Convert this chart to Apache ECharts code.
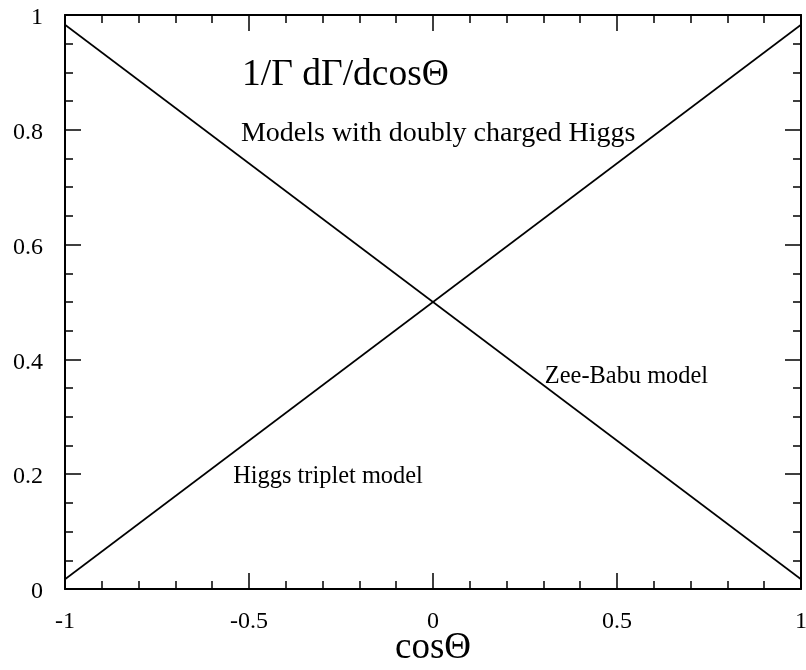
<!DOCTYPE html>
<html>
<head>
<meta charset="utf-8">
<script src="https://cdn.jsdelivr.net/npm/echarts@6/dist/echarts.min.js"></script>
<style>html,body{margin:0;padding:0;background:#fff;}#c{width:806px;height:670px;}</style>
</head>
<body>
<div id="c"></div>
<script>
// Data
const xTicks = [-1, -0.5, 0, 0.5, 1];
const yTicks = [0, 0.2, 0.4, 0.6, 0.8, 1];
const zeeBabuLine = [[-1, 0.983], [1, 0.017]];
const tripletLine = [[-1, 0.017], [1, 0.983]];
const annotationTexts = ['1/Γ dΓ/dcosΘ', 'Models with doubly charged Higgs', 'Zee-Babu model', 'Higgs triplet model'];
const annotationPos = [[-0.519, 0.895], [-0.522, 0.793], [0.304, 0.370], [-0.543, 0.195]];
const annotationSizes = [37.5, 28, 24.4, 24.4];

const FONT = '"Liberation Serif", "Times New Roman", serif';
const chart = echarts.init(document.getElementById('c'), null, {renderer: 'canvas'});

function axisCommon(showLabel, split) {
  return {
    axisLine: {show: true, onZero: false, lineStyle: {color: '#000', width: 2}},
    axisTick: {show: true, inside: true, length: 16, lineStyle: {color: '#000', width: 1.5}},
    minorTick: {show: true, splitNumber: split, length: 8, lineStyle: {color: '#000', width: 1.5}},
    splitLine: {show: false},
    minorSplitLine: {show: false},
    axisLabel: {show: showLabel, color: '#000', fontFamily: FONT, fontSize: 24},
  };
}

const ann = annotationTexts.map((t, i) => ({
  value: annotationPos[i],
  label: {show: true, position: 'right', distance: 0, formatter: t,
          fontSize: annotationSizes[i], fontFamily: FONT, color: '#000', opacity: 1}
}));

const xmin = xTicks[0], xmax = xTicks[xTicks.length - 1];
const ymin = yTicks[0], ymax = yTicks[yTicks.length - 1];

const option = {
  animation: false,
  backgroundColor: '#fff',
  grid: {left: 65, right: 5, top: 15, bottom: 81, containLabel: false, outerBoundsMode: 'none'},
  xAxis: [
    Object.assign({type: 'value', min: xmin, max: xmax, interval: 0.5, position: 'bottom',
      name: 'cosΘ', nameLocation: 'middle', nameGap: 41, nameMoveOverlap: false,
      nameTextStyle: {fontFamily: FONT, fontSize: 37, color: '#000'}}, axisCommon(true, 5),
      {axisLabel: {show: true, color: '#000', fontFamily: FONT, fontSize: 24, margin: 21}}),
    Object.assign({type: 'value', min: xmin, max: xmax, interval: 0.5, position: 'top'}, axisCommon(false, 5))
  ],
  yAxis: [
    Object.assign({type: 'value', min: ymin, max: ymax, interval: 0.2, position: 'left'}, axisCommon(true, 4),
      {axisLabel: {show: true, color: '#000', fontFamily: FONT, fontSize: 24, margin: 22,
        formatter: '{a|{value}}',
        rich: {a: {fontFamily: FONT, fontSize: 24, color: '#000', padding: [6, 0, 0, 0]}}}}),
    Object.assign({type: 'value', min: ymin, max: ymax, interval: 0.2, position: 'right'}, axisCommon(false, 4))
  ],
  series: [
    {type: 'line', data: zeeBabuLine, xAxisIndex: 0, yAxisIndex: 0, showSymbol: false, symbol: 'none',
     lineStyle: {color: '#000', width: 1.6}},
    {type: 'line', data: tripletLine, xAxisIndex: 0, yAxisIndex: 0, showSymbol: false, symbol: 'none',
     lineStyle: {color: '#000', width: 1.6}},
    {type: 'scatter', data: ann, symbolSize: 0, xAxisIndex: 0, yAxisIndex: 0, silent: true,
     itemStyle: {opacity: 1}}
  ]
};
chart.setOption(option);
</script>
</body>
</html>
